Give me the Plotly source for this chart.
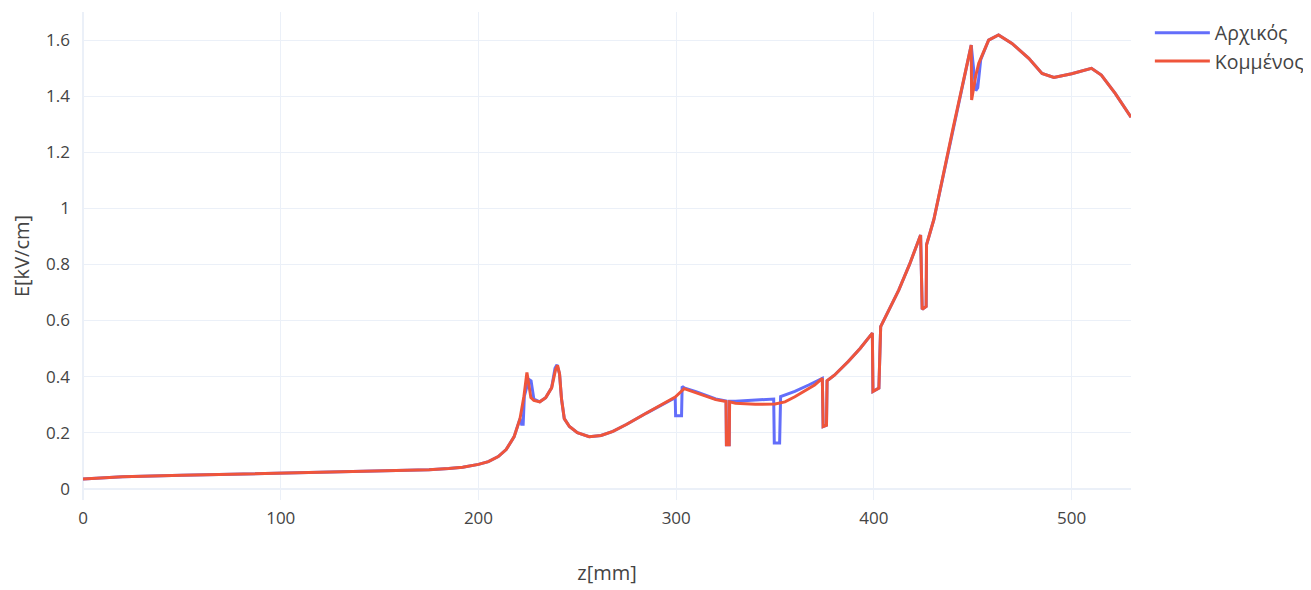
import plotly.graph_objects as go

# Κομμένος (cut) series
z_cut = [0, 20, 50, 100, 150, 175, 185, 192, 200, 205, 210, 214, 218, 221, 223, 224.5, 226.5, 228, 231, 234, 237,
         239, 240, 241, 242, 243.4, 246, 250, 256, 262, 268, 275, 285, 295, 299.5, 304, 310, 315, 320, 325.2, 325.4,
         326.8, 327, 330, 340, 350, 355, 360, 365, 370, 373.9, 374.3, 376, 376.3, 380, 387, 393, 399.2, 399.5,
         402.5, 403.4, 412.6, 418, 423.6, 424.4, 426.4, 426.6, 430.3, 440, 449.2, 449.4, 451.4, 453, 458, 463,
         469.8, 478.3, 485, 491, 500, 510, 515, 522, 530]
e_cut = [0.035, 0.043, 0.048, 0.056, 0.063, 0.068, 0.072, 0.077, 0.087, 0.097, 0.115, 0.14, 0.185, 0.25, 0.33, 0.415,
         0.325, 0.315, 0.31, 0.325, 0.36, 0.425, 0.44, 0.41, 0.32, 0.25, 0.222, 0.2, 0.186, 0.19, 0.205, 0.23, 0.27,
         0.31, 0.327, 0.357, 0.343, 0.33, 0.318, 0.311, 0.157, 0.157, 0.31, 0.305, 0.301, 0.302, 0.31, 0.328,
         0.348, 0.37, 0.394, 0.222, 0.227, 0.385, 0.405, 0.454, 0.50, 0.555, 0.347, 0.359, 0.578, 0.709, 0.80,
         0.905, 0.64, 0.65, 0.87, 0.96, 1.285, 1.582, 1.386, 1.47, 1.517, 1.60, 1.618, 1.588, 1.535, 1.481,
         1.467, 1.48, 1.499, 1.475, 1.41, 1.325]

# Αρχικός (original) series
z_orig = [0, 20, 50, 100, 150, 175, 185, 192, 200, 205, 210, 214, 218, 221, 221.8, 222.6, 223.2, 225.5, 226.6, 228,
          231, 234, 237, 238.7, 239.7, 241, 242, 243.4, 246, 250, 256, 262, 268, 275, 285, 295, 299.5, 299.7, 302.7,
          303.0, 304, 310, 315, 320, 325.2, 325.4, 326.8, 327, 330, 340, 349.3, 349.6, 352.3, 352.8, 360, 367,
          373.9, 374.3, 376, 376.3, 380, 387, 393, 399.2, 399.5, 402.5, 403.4, 412.6, 418, 423.6, 424.4, 426.4,
          426.6, 430.3, 440, 449.2, 451.5, 452.5, 454, 458, 463, 469.8, 478.3, 485, 491, 500, 510, 515, 522, 530]
e_orig = [0.035, 0.043, 0.048, 0.056, 0.063, 0.068, 0.072, 0.077, 0.087, 0.097, 0.115, 0.14, 0.185, 0.25, 0.23, 0.23,
          0.33, 0.39, 0.385, 0.32, 0.31, 0.325, 0.36, 0.43, 0.442, 0.41, 0.32, 0.25, 0.222, 0.2, 0.186, 0.19,
          0.205, 0.23, 0.27, 0.31, 0.325, 0.26, 0.26, 0.365, 0.36, 0.346, 0.333, 0.32, 0.313, 0.157, 0.157, 0.312,
          0.312, 0.315, 0.32, 0.163, 0.163, 0.329, 0.347, 0.37, 0.394, 0.222, 0.227, 0.385, 0.405, 0.454, 0.50,
          0.555, 0.347, 0.359, 0.578, 0.709, 0.80, 0.905, 0.64, 0.65, 0.87, 0.96, 1.285, 1.582, 1.42, 1.43,
          1.53, 1.60, 1.618, 1.588, 1.535, 1.481, 1.467, 1.48, 1.499, 1.475, 1.41, 1.325]

x_ticks = [0, 100, 200, 300, 400, 500]
y_ticks = [0, 0.2, 0.4, 0.6, 0.8, 1, 1.2, 1.4, 1.6]

fig = go.Figure()
fig.add_trace(go.Scatter(x=z_orig, y=e_orig, mode="lines", name="Αρχικός",
                         line=dict(color="#636EFA", width=3)))
fig.add_trace(go.Scatter(x=z_cut, y=e_cut, mode="lines", name="Κομμένος",
                         line=dict(color="#EF553B", width=3)))

fig.update_layout(
    template="plotly_white",
    width=1311, height=590,
    margin=dict(l=75, r=188, t=4, b=98, autoexpand=False),
    font=dict(family="Open Sans, verdana, arial, sans-serif", size=17, color="#444"),
    legend=dict(x=1.018, y=0.997, xanchor="left", yanchor="top", font=dict(size=19.5),
                itemwidth=55, tracegroupgap=0),
    xaxis=dict(title=dict(text="z[mm]", font=dict(size=20), standoff=37), range=[0, 530],
               tickvals=x_ticks, showline=False, zeroline=True, ticklabelstandoff=6),
    yaxis=dict(title=dict(text="E[kV/cm]", font=dict(size=20), standoff=17), range=[-0.04, 1.70],
               tickvals=y_ticks, ticktext=[f"{v:g}" for v in y_ticks], zeroline=True,
               ticklabelstandoff=12),
)

fig.write_html("out.html")
